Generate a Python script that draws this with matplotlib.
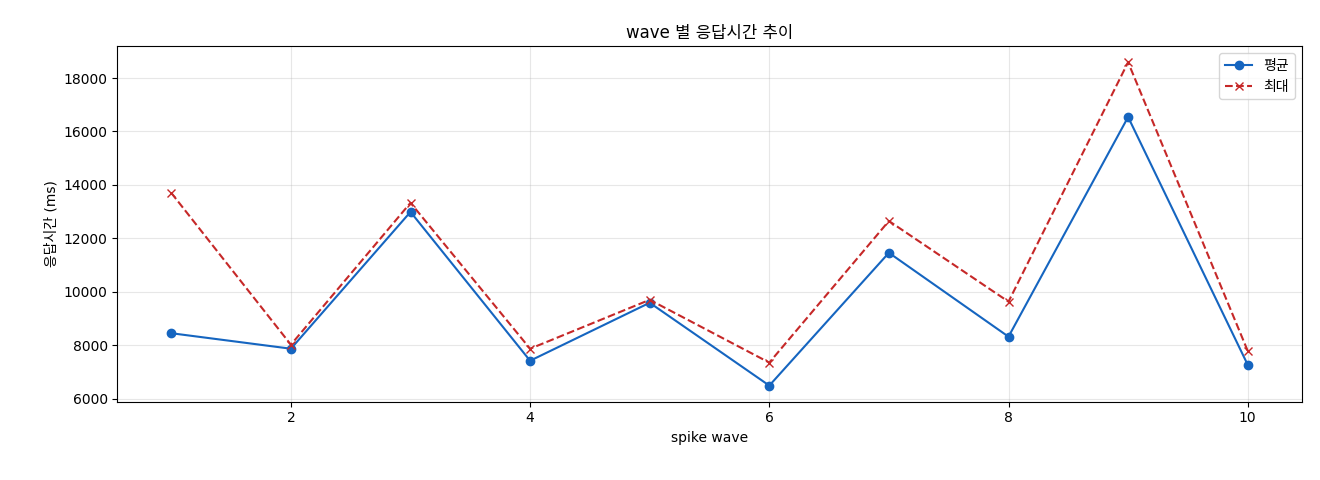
import matplotlib
matplotlib.use('Agg')
import matplotlib.pyplot as plt

# latin glyphs from DejaVu (wider, like the reference), hangul from Noto CJK
plt.rcParams['font.family'] = ['DejaVu Sans', 'Noto Sans CJK KR']
plt.rcParams['axes.unicode_minus'] = False

# data
waves = [1, 2, 3, 4, 5, 6, 7, 8, 9, 10]
avg_ms = [8450, 7870, 12990, 7420, 9590, 6490, 11460, 8320, 16540, 7270]
max_ms = [13700, 8020, 13330, 7870, 9700, 7350, 12650, 9630, 18590, 7790]

fig, ax = plt.subplots(figsize=(13.2, 4.8), dpi=100)
ax.plot(waves, avg_ms, marker='o', color='#1565c0', label='평균')
ax.plot(waves, max_ms, marker='x', linestyle='--', color='#c62828', label='최대')
ax.set_title('wave 별 응답시간 추이')
ax.set_xlabel('spike wave')
ax.set_ylabel('응답시간 (ms)')
ax.grid(alpha=0.3)
ax.legend(loc='upper right')

fig.subplots_adjust(left=0.089, right=0.986, top=0.904, bottom=0.163)
fig.savefig('out.png', dpi=100)
